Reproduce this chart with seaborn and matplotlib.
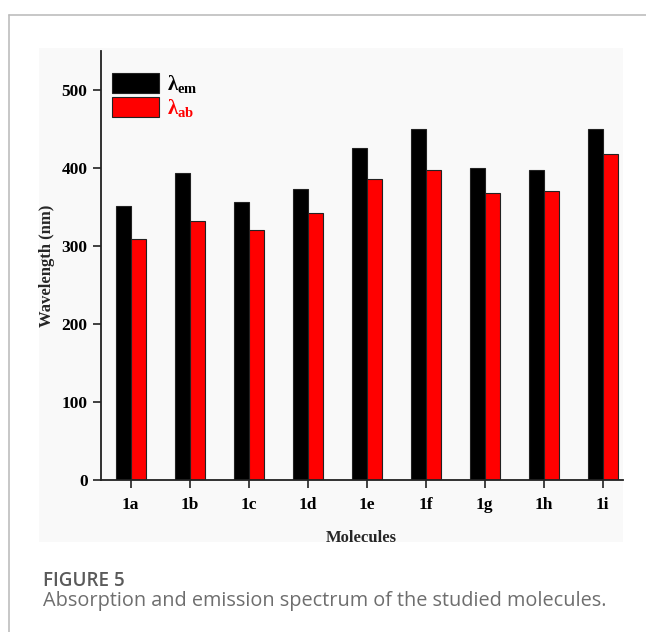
import matplotlib
matplotlib.use("Agg")
import matplotlib.pyplot as plt
from matplotlib.patches import Rectangle
from matplotlib.lines import Line2D
import seaborn as sns
import pandas as pd

molecules = ["1a", "1b", "1c", "1d", "1e", "1f", "1g", "1h", "1i"]
emission = [352, 394, 357, 374, 426, 450, 400, 398, 450]
absorption = [310, 332, 321, 343, 386, 398, 368, 371, 418]
series_names = ["λem", "λab"]
series_colors = ["#000000", "#ff0000"]
yticks = [0, 100, 200, 300, 400, 500]

df = pd.DataFrame({
    "Molecule": molecules * 2,
    "Wavelength": emission + absorption,
    "Series": [series_names[0]] * len(molecules) + [series_names[1]] * len(molecules),
})

sns.set_theme(style="ticks")
plt.rcParams["font.family"] = ["Liberation Serif", "DejaVu Serif"]
plt.rcParams["mathtext.fontset"] = "custom"
plt.rcParams["mathtext.bf"] = "Liberation Serif:bold"
plt.rcParams["mathtext.rm"] = "Liberation Serif:bold"

W, H = 646, 632
fig = plt.figure(figsize=(W / 100, H / 100), dpi=100)
fig.patch.set_facecolor("white")

# card border and light image panel
fig.add_artist(Line2D([9 / W, 1], [1 - 15 / H, 1 - 15 / H], color="#bdbdbd", lw=1.2))
fig.add_artist(Line2D([9 / W, 9 / W], [0, 1 - 15 / H], color="#bdbdbd", lw=1.2))
fig.add_artist(Rectangle((39 / W, 1 - 542 / H), (623 - 39) / W, (542 - 48) / H,
                         facecolor="#f9f9f9", edgecolor="none", zorder=0))

x0, x1 = 100.7, 622.7
y_zero, ymax = 480.3, 550
px_per_unit = 0.78
y_top = y_zero - ymax * px_per_unit
ax = fig.add_axes([x0 / W, 1 - y_zero / H, (x1 - x0) / W, (y_zero - y_top) / H])
ax.set_facecolor("none")

sns.barplot(data=df, x="Molecule", y="Wavelength", hue="Series",
            palette=series_colors, width=0.51, dodge=True,
            edgecolor="#222222", linewidth=0.8, saturation=1, ax=ax,
            legend=False)

ax.set_xlim(-0.508, 8.34)
ax.set_ylim(0, ymax)
ax.set_yticks(yticks)
ax.tick_params(axis="both", direction="out", length=6, width=1.2, colors="#222222",
               labelsize=12.5, labelcolor="black")
ax.tick_params(axis="y", pad=3.5)
ax.tick_params(axis="x", pad=6)
for lab in ax.get_xticklabels() + ax.get_yticklabels():
    lab.set_fontweight("bold")
sns.despine(ax=ax)
for s in ("left", "bottom"):
    ax.spines[s].set_linewidth(1.3)
    ax.spines[s].set_color("#222222")

ax.set_xlabel("Molecules", fontsize=12, fontweight="bold", labelpad=12)
ax.set_ylabel("Wavelength (nm)", fontsize=12, fontweight="bold", labelpad=5)

handles = [Rectangle((0, 0), 1, 1, facecolor=c, edgecolor="#222222", lw=0.8)
           for c in series_colors]
labels = [r"$\mathbf{λ_{em}}$", r"$\mathbf{λ_{ab}}$"]
leg = ax.legend(handles, labels, loc="upper left", bbox_to_anchor=(0.005, 0.97),
                frameon=False, fontsize=15, handlelength=2.25, handleheight=1.15,
                handletextpad=0.4, labelspacing=0.08, borderaxespad=0)
for t, c in zip(leg.get_texts(), series_colors):
    t.set_color(c)

fig.text(43 / W, 1 - 586 / H, "FIGURE 5", fontsize=13.6, fontweight="semibold",
         family=["Open Sans", "DejaVu Sans"], color="#5a5a5a", va="baseline")
fig.text(43 / W, 1 - 606 / H, "Absorption and emission spectrum of the studied molecules.",
         fontsize=14.3, family=["Open Sans", "DejaVu Sans"], color="#6e6e6e", va="baseline")

fig.savefig("out.png", dpi=100, facecolor=fig.get_facecolor())
